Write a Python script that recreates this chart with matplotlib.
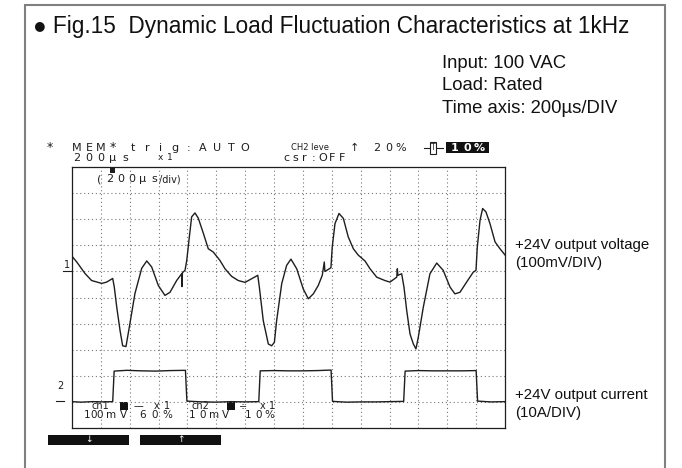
import matplotlib.pyplot as plt
from matplotlib.patches import Rectangle

W, H = 682, 468

# ch1: +24V output voltage (mV, relative to ch1 reference line)
V_T_US = [0, 33, 90, 136, 206, 240, 282, 293, 310, 333, 351, 374, 397, 436, 483, 518, 552,
          598, 644, 679, 725, 760, 762, 765, 783, 795, 813, 829, 852, 875, 910, 944, 979, 1025,
          1060, 1106, 1152, 1199, 1245, 1287, 1298, 1325, 1360, 1383, 1402, 1418, 1453, 1487,
          1517, 1557, 1602, 1637, 1672, 1706, 1734, 1748, 1752, 1765, 1794, 1803, 1822, 1850,
          1880, 1914, 1949, 1984, 2030,
          2065, 2111, 2168, 2203, 2250, 2254, 2258, 2284, 2300, 2319, 2342, 2365, 2383, 2399,
          2434, 2480, 2527, 2572, 2619, 2653, 2688, 2734, 2780, 2799, 2808, 2827, 2845, 2868,
          2896, 2931, 2965, 3000]
V_MV = [58, 36, -8, -35, -46, -41, -27, -60, -137, -227, -285, -288, -214, -85, 12, 40, 17,
        -54, -92, -80, -35, -9, -58, -5, 4, 42, 132, 209, 224, 204, 146, 87, 74, 42,
        10, -19, -35, -42, -28, -15, -60, -188, -278, -285, -272, -188, -47, 23,
        47, 10, -67, -105, -86, -54, -15, 36, 0, 4, 14, 93, 183, 222,
        203, 132, 87, 62, 40,
        10, -22, -35, -41, -22, 10, -15, -9, -60, -150, -240, -278, -297, -253,
        -137, -9, 32, 4, -60, -86, -80, -41, -3, 4, 93, 196, 241, 228,
        183, 113, 87, 63]

# ch2: +24V output current (A, relative to ch2 reference line)
I_T_US = [0, 60, 140, 220, 282, 292, 380, 480, 580, 680, 786,
          796, 900, 1000, 1100, 1200, 1294, 1304, 1400, 1500, 1600, 1700, 1795,
          1805, 1900, 2000, 2100, 2200, 2298, 2308, 2400, 2500, 2600, 2700, 2800,
          2810, 2900, 3000]
I_A = [0.1, -0.1, 0.1, 0.0, 0.1, 11.8, 12.1, 11.9, 11.8, 12.0, 12.1,
       0.3, 0.0, -0.1, 0.1, 0.0, 0.1, 11.9, 12.0, 11.9, 11.9, 12.0, 12.2,
       0.2, -0.1, 0.0, 0.0, 0.1, 0.2, 11.8, 12.0, 11.9, 11.9, 11.9, 12.0,
       0.3, 0.0, 0.1]

TIME_DIV_US = 200
N_XDIV = 15
N_YDIV = 10
V_DIV_MV = 100
I_DIV_A = 10
CH1_REF = 6
CH2_REF = 1

TITLE = "● Fig.15  Dynamic Load Fluctuation Characteristics at 1kHz"
CONDITIONS = ["Input: 100 VAC", "Load: Rated", "Time axis: 200µs/DIV"]
CH1_LABEL = ["+24V output voltage", "(100mV/DIV)"]
CH2_LABEL = ["+24V output current", "(10A/DIV)"]

SANS = "Liberation Sans"
SCOPE = "DejaVu Sans"
INK = "#1e1e1e"

fig = plt.figure(figsize=(W / 100, H / 100), dpi=100)
fig.patch.set_facecolor("white")

# overlay axes in pixel coordinates for all the page text
ov = fig.add_axes([0, 0, 1, 1])
ov.set_xlim(0, W)
ov.set_ylim(H, 0)
ov.axis("off")

ov.plot([25, 25, 665, 665], [H + 5, 5, 5, H + 5], color="#808080", lw=1.5,
        solid_joinstyle="miter", clip_on=False)

ov.text(33, 33, TITLE, fontsize=16.3, family=SANS, va="baseline", ha="left", color="#111")
for i, s in enumerate(CONDITIONS):
    ov.text(442, 68 + i * 22.5, s, fontsize=13.3, family=SANS, va="baseline", color="#111")
for i, s in enumerate(CH1_LABEL):
    ov.text(515, 249 + i * 18.5, s, fontsize=10.8, family=SANS, va="baseline", color="#111")
for i, s in enumerate(CH2_LABEL):
    ov.text(515, 399 + i * 18.5, s, fontsize=10.8, family=SANS, va="baseline", color="#111")


def scope_text(x, y, s, pitch=12, size=8, color=INK, **kw):
    # scope screen font: evenly spaced characters
    for i, ch in enumerate(s):
        if ch != " ":
            ov.text(x + i * pitch, y, ch, ha="center", va="center", fontsize=size,
                    family=SCOPE, color=color, **kw)


# header lines of the recorder screen
scope_text(50, 148, "*", size=9)
scope_text(77, 148, "MEM")
scope_text(113, 148, "*", size=9)
scope_text(133, 148, "trig:AUTO", pitch=14)
ov.text(291, 148, "CH2 leve", fontsize=6, family=SCOPE, va="center", color=INK)
scope_text(354, 148, "↑")
scope_text(377, 148, "20%")
ov.plot([424, 443], [148, 148], color=INK, lw=0.8)
ov.text(433, 148, "T", fontsize=5.5, family=SCOPE, ha="center", va="center", color=INK,
        bbox=dict(boxstyle="square,pad=0.15", fc="white", ec=INK, lw=0.8))
ov.add_patch(Rectangle((446, 142), 43, 11, fc="#111", ec="none"))
scope_text(455, 148, "10%", color="white", fontweight="bold")
scope_text(77, 158, "200µs")
scope_text(160, 158, "x1", pitch=10, size=6.5)
scope_text(286, 158, "csr:OFF", pitch=9.3)

# oscilloscope graticule
ax = fig.add_axes([72 / W, (H - 428) / H, 433 / W, 261 / H])
ax.set_facecolor("none")
ax.set_xlim(0, N_XDIV * TIME_DIV_US)
ax.set_ylim(0, N_YDIV)
for k in range(1, N_XDIV):
    ax.axvline(k * TIME_DIV_US, color="#777", lw=0.8, ls=(0, (1, 2.5)))
for k in range(1, N_YDIV):
    ax.axhline(k, color="#777", lw=0.8, ls=(0, (1, 2.5)))
ax.set_xticks([])
ax.set_yticks([])
for sp in ax.spines.values():
    sp.set_linewidth(0.9)
    sp.set_color(INK)

ax.plot(V_T_US, [CH1_REF + v / V_DIV_MV for v in V_MV], color=INK, lw=1.0)
ax.plot(I_T_US, [CH2_REF + a / I_DIV_A for a in I_A], color=INK, lw=1.0)

# trigger position marker and time/div label
ov.add_patch(Rectangle((110, 167), 5, 6, fc=INK, ec="none", zorder=5))
scope_text(99, 179, "(200µs", pitch=11)
ov.text(159, 179, "/div)", fontsize=7, family=SCOPE, va="center", color=INK)

# channel reference markers
ov.text(67, 265, "1", fontsize=7, family=SCOPE, ha="center", va="center", color=INK)
ov.plot([63, 72], [271, 271], color=INK, lw=0.8)
ov.text(60, 386, "2", fontsize=7, family=SCOPE, ha="center", va="center", color=INK)
ov.plot([56, 64], [401, 401], color=INK, lw=0.8)

# channel settings inside the screen
ov.text(91, 406, "ch1", fontsize=7, family=SCOPE, va="center", color=INK)
ov.add_patch(Rectangle((120, 402), 8, 8, fc="#111", ec="none"))
scope_text(138, 406, "—", size=7)
scope_text(157, 406, "x1", pitch=10, size=7)
ov.text(192, 406, "ch2", fontsize=7, family=SCOPE, va="center", color=INK)
ov.add_patch(Rectangle((227, 402), 8, 8, fc="#111", ec="none"))
scope_text(243, 406, "÷", size=7)
scope_text(263, 406, "x1", pitch=9, size=7)
scope_text(87, 415, "100", pitch=6.5, size=7.5)
scope_text(111, 415, "mV", pitch=12, size=7.5)
scope_text(143, 415, "60%", pitch=12, size=7.5)
scope_text(192, 415, "10mV", pitch=11, size=7.5)
scope_text(248, 415, "10%", pitch=10.5, size=7.5)

# soft keys below the screen
for x0, ch in [(48, "↓"), (140, "↑")]:
    ov.add_patch(Rectangle((x0, 435), 81, 10, fc="#111", ec="none"))
    ov.text(x0 + 40.5, 440, ch, fontsize=6.5, family=SCOPE, ha="center", va="center",
            color="white")

fig.savefig("out.png", dpi=100, facecolor="white")
